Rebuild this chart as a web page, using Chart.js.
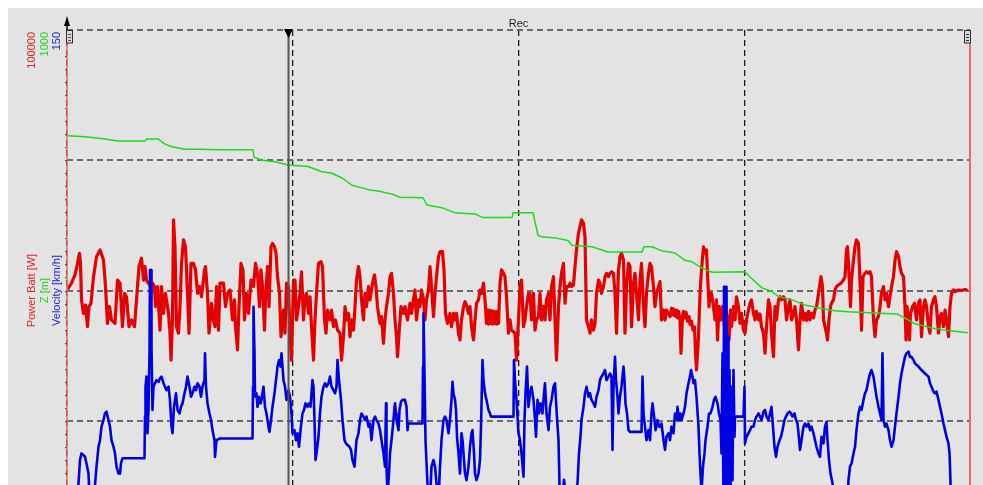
<!DOCTYPE html>
<html>
<head>
<meta charset="utf-8">
<script src="https://cdn.jsdelivr.net/npm/chart.js@4"></script>
<style>
  html, body { margin: 0; padding: 0; background: #ffffff; overflow: hidden; }
  #wrap { position: absolute; left: 0; top: 0; width: 983px; height: 560px; }
</style>
</head>
<body>
<div id="wrap"><canvas id="rec" width="983" height="560"></canvas></div>
<script>
// Recording time base [s]
const timeRange = [0, 1806];
const cursorTime = 443;
const recordTitle = 'Rec';
const axisTitles = ['Power Batt [W]', 'Z [m]', 'Velocity [km/h]'];
const axisColors = ['#e32020', '#1fd01f', '#2020e0'];

// Battery power [W]
const powerTime = [1,9,16,21,25,27,29,33,37,41,44,48,53,59,66,73,77,81,85,89,96,101,106,111,115,119,124,129,135,139,144,149,153,156,159,163,167,171,175,177,181,186,189,193,197,203,206,208,211,213,216,219,223,226,229,233,237,241,244,248,253,257,261,265,269,275,277,281,284,289,293,296,299,303,306,313,
  317,321,326,331,335,337,341,344,348,352,355,359,363,368,373,377,381,385,388,391,395,397,401,404,408,411,415,418,421,425,428,433,436,439,443,446,449,453,456,459,463,466,469,473,476,479,483,486,489,493,496,499,503,508,511,515,518,521,526,529,533,537,541,546,549,553,556,559,563,566,569,573,576,579,583,586,589,593,596,599,603,606,
  611,615,618,621,626,629,633,636,639,643,646,649,653,656,659,661,665,668,673,676,681,686,689,693,696,699,703,706,709,713,716,719,723,726,729,733,736,739,743,746,751,754,757,761,766,769,773,776,779,783,786,789,793,796,799,803,806,809,813,816,819,823,826,829,833,836,839,841,843,845,847,849,851,853,855,857,859,861,863,866,869,873,876,879,883,886,889,896,899,903,906,
  909,913,916,919,923,926,929,933,936,939,943,946,949,953,956,959,963,966,969,973,976,979,983,986,989,993,996,999,1003,1006,1009,1013,1016,1019,1023,1026,1029,1033,1036,1039,1043,1046,1049,1053,1056,1059,1063,1066,1069,1073,1076,1079,1083,1086,1089,1093,1096,1099,1103,1106,1109,1113,1116,1119,1123,1126,1129,1133,1136,1139,1143,1146,1149,1153,1156,1159,1163,1166,1169,1173,1176,1179,1183,1186,1189,1193,1196,1199,1206,
  1209,1211,1213,1216,1219,1221,1223,1226,1228,1231,1233,1235,1238,1241,1244,1246,1249,1252,1255,1257,1259,1263,1266,1269,1273,1276,1279,1281,1284,1286,1289,1293,1296,1299,1301,1304,1308,1311,1315,1318,1321,1324,1327,1329,1333,1336,1339,1343,1346,1349,1353,1356,1359,1363,1366,1369,1373,1376,1379,1383,1386,1389,1393,1396,1399,1403,1406,1409,1413,1416,1419,1423,1426,1429,1433,1436,1439,1443,1446,1449,1453,1456,1459,1463,1466,1469,1473,1476,1479,1483,1486,1489,1493,1496,1499,1503,1506,
  1508,1511,1513,1516,1519,1521,1524,1527,1529,1533,1536,1539,1543,1548,1553,1556,1559,1561,1564,1567,1569,1573,1576,1579,1583,1585,1587,1589,1592,1596,1599,1603,1606,1609,1613,1616,1619,1623,1626,1629,1633,1636,1639,1643,1646,1649,1653,1656,1659,1663,1666,1669,1673,1676,1678,1680,1683,1685,1687,1691,1695,1699,1703,1706,1709,1713,1716,1719,1723,1726,1729,1733,1736,1739,1743,1746,1749,1753,1756,1759,1763,1766,1769,1773,1776,1783,1789,1796,1801];
const powerW = [400,2800,6000,10400,14300,10400,-3600,-8800,-5600,-13900,-6200,-4900,5300,13000,15600,11700,1500,-12600,-6200,-11300,-12600,4000,2800,-13900,-1100,-2400,-13900,-11300,-13900,-3600,9200,12400,4000,9200,4000,2800,1500,2800,1500,-6200,1500,-15200,1500,-8800,-1100,-8800,-16400,-26700,-11300,27100,16800,-13900,-16400,-6200,10400,19400,16800,-1100,-16400,10400,10400,7900,-1100,1500,-2400,7900,9200,-1100,-16400,-4900,-11300,-13900,1500,-15200,2800,2800,
  -6200,-1100,200,-11300,-3600,-13900,-22800,-6200,10400,7900,-11300,-1100,-8800,4000,1500,10400,6600,-6200,7900,1500,-15200,-2400,9200,-6200,16800,18100,16800,14300,5300,-1100,-17700,-7500,-16400,2800,1500,-17700,-26700,4000,4000,-11300,-6200,-1100,7200,-11300,-2400,-1100,-8800,-2400,-13900,-26700,-11300,-1100,10400,11100,9200,-11300,-16400,-7500,-11300,-7500,-13900,-11300,-15200,-16400,-26700,-17700,-6200,-11300,-8800,-17700,-11300,-15200,-6200,4000,9200,5300,-3600,-11300,-1100,-6200,1500,-3600,
  2800,6000,1500,-6200,-12600,-10000,-20300,-11300,-6200,-1100,5300,6600,-1100,-11300,-17700,-25400,-13900,-6200,-8800,-6200,-11300,-4900,-8800,-3600,200,-11300,-3600,-6200,200,-3600,-11300,-3600,200,9200,1500,-10000,-1100,5300,13000,14900,14900,7900,-8800,-12600,-8800,-13900,-8800,-11300,-8800,-16400,-19000,-11300,-6200,-4300,-5600,-8800,-6200,-13900,-19000,-11300,-4900,-3600,200,-1100,2800,-3600,-12600,-7500,-12900,-7500,-12600,-7800,-12900,-8000,-12600,-8200,-12900,-8000,-12600,2800,7900,6600,5300,-2400,-16400,-11300,-15200,-16400,-26700,-11300,1500,
  4000,-13900,-11300,-6200,-1100,-1100,-11300,-1100,-15200,-11300,-10000,-1100,-11300,-6200,-11300,-3600,-1100,-11300,1500,5300,-11300,-26700,-6200,1500,6600,10400,-4900,1500,1500,2800,1500,2100,9200,15600,22000,24500,27100,25800,20700,-11300,-13900,-16400,-11300,-15200,-12600,-1100,4000,2800,-1100,1500,5300,6600,5300,6600,7200,6600,-1100,-16400,7900,13000,14300,11700,-16400,1500,10400,9200,-13900,2800,6600,-1100,-11300,4000,10400,-6200,-13900,-1100,6600,10400,9200,1500,-6200,-1100,1500,3400,-11300,-7500,-11300,-7500,-10000,
  -6800,-9400,-7000,-9800,-7500,-10500,-8000,-11300,-24100,-10000,-8000,-10500,-8400,-11800,-10000,-13000,-11800,-15200,-14000,-24100,-30500,-17700,-1100,7900,16800,14300,15600,6600,-6200,-1100,-1100,-6200,-11300,-3600,-19000,-6200,-11300,-6200,-13900,-7500,-11300,-19000,-7500,-13900,-6200,-11300,-2400,-6200,-12600,-8800,-15200,-16400,-11300,-7500,-4900,-3600,-8800,-11300,-8000,-11300,-9000,-13900,-16400,-24100,-13900,-3600,-6200,-16400,-25400,-6200,-11300,-3600,-2400,-3600,-2400,-3600,-11300,-6200,-3600,-11300,-8800,-6200,-11300,-22800,-11300,-4900,-11300,-8800,-11500,-8000,-11300,-8800,-10500,-7500,-6200,-1100,2800,
  5300,1500,-11300,-13900,-16400,-19000,-11300,-6200,-4900,-3600,200,1500,2100,2800,4000,5300,15600,16800,6600,-6200,4000,11700,16800,19400,18100,7900,-1100,-15200,5300,6600,7200,6600,7200,5300,-11300,-17700,-11300,-10000,-6200,-1100,1500,-3600,-1100,-6200,-2400,1500,5300,11700,14900,13000,9200,6600,5300,-6200,-19000,-6200,-11300,-19000,-8800,-6200,-4900,-11300,-4900,-3600,-17700,-6200,-3600,-6200,-13900,-16400,-6200,-3600,-2400,-6200,-16400,-10000,-8800,-13900,-7500,-11300,-17700,-6200,-1100,200,-400,200,0,400,0];

// Altitude Z [m]
const heightTime = [2,36,76,102,156,160,182,196,210,236,262,306,372,374,390,416,442,482,510,530,550,570,590,606,622,650,666,712,720,750,776,816,832,890,892,906,932,942,950,976,1002,1010,1050,1082,1150,1154,1170,1190,1206,1216,1236,1250,1270,1290,1356,1366,1390,1410,1422,1450,1476,1506,1536,1562,1660,1676,1696,1730,1762,1802];
const heightM = [797,795,791,787,787,791,791,781,776,771,771,770,770,756,750,747,741,738,728,725,716,702,697,693,691,685,679,678,664,659,649,647,640,640,649,649,649,606,603,601,596,587,584,574,574,584,584,576,574,572,558,555,543,535,536,526,505,498,489,482,472,466,461,459,455,447,436,428,423,419];

// Vehicle speed [km/h]
const speedTime = [0,18,23,26,29,33,36,39,43,44,48,52,56,59,63,66,69,73,76,79,83,86,89,93,96,99,103,106,108,111,155,156,157,159,161,163,165,166,168,169,171,173,176,179,183,186,189,193,196,199,203,206,209,211,214,218,221,225,228,231,235,238,241,245,248,251,255,258,261,265,268,271,275,276,278,281,285,288,291,295,296,299,306,
  371,372,373,375,376,379,381,384,387,389,393,396,399,403,405,408,411,415,418,421,424,427,429,433,436,439,443,446,449,451,455,458,461,464,467,471,474,477,481,484,487,491,493,495,497,499,503,506,509,513,516,519,523,526,529,533,536,539,541,544,548,551,555,558,561,565,568,571,575,577,579,583,586,589,593,596,599,603,606,
  609,613,616,619,623,626,629,633,636,638,639,641,644,646,649,653,655,656,658,659,663,665,668,671,676,679,681,683,711,712,713,715,717,720,723,726,729,733,736,739,743,746,749,753,756,759,763,766,769,771,773,776,778,780,783,786,789,791,794,796,799,803,806,809,811,814,816,819,823,826,828,831,833,836,839,843,846,848,893,894,896,899,903,906,
  909,913,915,917,920,923,926,929,933,936,938,941,944,947,951,954,956,959,963,966,969,973,976,979,983,985,990,994,998,1010,1021,1024,1027,1029,1033,1036,1039,1043,1046,1049,1053,1056,1059,1063,1066,1069,1073,1076,1079,1083,1086,1089,1091,1093,1096,1098,1101,1103,1106,1109,1113,1115,1117,1120,1123,1126,1149,1151,1153,1156,1159,1163,1166,1169,1171,1175,1177,1181,1184,1187,1189,1193,1196,1199,1203,1206,
  1209,1213,1216,1219,1221,1224,1227,1229,1233,1236,1239,1243,1246,1248,1251,1253,1256,1259,1263,1265,1267,1269,1272,1275,1277,1281,1284,1287,1291,1294,1297,1301,1304,1307,1309,1311,1313,1314,1315,1317,1318,1319,1321,1322,1323,1325,1327,1329,1331,1333,1335,1336,1353,1355,1356,1359,1363,1366,1369,1373,1376,1379,1383,1386,1389,1393,1396,1399,1403,1406,1409,1411,1415,1418,1421,1425,1428,1431,1435,1438,1441,1445,1448,1451,1455,1458,1461,1463,1466,1469,1473,1476,1479,1483,1486,1489,1493,1496,1499,1503,1506,
  1509,1513,1516,1519,1521,1524,1527,1531,1540,1552,1560,1563,1566,1569,1573,1576,1579,1583,1586,1589,1593,1596,1599,1603,1606,1609,1613,1616,1619,1623,1626,1629,1631,1633,1636,1639,1643,1646,1649,1653,1656,1659,1663,1666,1669,1673,1676,1679,1683,1686,1689,1693,1696,1703,1709,1716,1723,1726,1729,1733,1736,1739,1743,1746,1749,1753,1756,1759,1763,1765,1766,1768,1775,1780];
const speedKmh = [6,8,19.5,26.2,28.1,27.6,27.1,25.2,22.3,19,12,10,19,24.3,30,31.9,35.8,37.7,39.6,40.1,37.7,35.8,31.9,30,28.1,24.3,22.3,22.3,25.2,26.7,26.7,38.7,47.3,50.2,33.9,40.6,56.9,80.9,80.9,58.8,40.6,47.3,48.3,49.2,48.7,49.7,50.2,48.3,47.3,46.3,47.3,43.5,35.8,33.9,41.5,45.4,40.6,39.6,41.5,42.5,45.4,47.3,50.2,47.3,44.4,45.4,47.3,46.3,48.3,47.3,44.4,47.3,49.2,56.9,47.3,42.5,39.6,37.7,34.8,31.9,27.1,31.9,32.4,
  32.4,47.3,70.3,56.9,44.4,45.4,41.5,44.4,42.5,43.5,47.3,41.5,39.6,35.8,34.3,37.7,41.5,45.4,49.2,53.1,55,53.1,56.9,49.2,47.3,43.5,46.3,44.4,39.6,33.9,34.8,31.9,33.9,30,34.8,39.6,40.6,42.5,41.5,42.5,41.5,49.2,47.3,37.7,26.2,28.1,32.9,39.6,44.4,47.3,48.3,47.3,48.3,50.2,47.3,46.3,45.4,47.3,55,49.2,43.5,37.7,31.9,31,30.5,30,29.1,26.2,24.3,28.1,31.9,33.9,37.7,39.6,38.7,37.7,38.7,35.8,36.7,
  31.9,37.7,38.7,37.7,36.7,34.8,31.9,28.1,24.3,42.5,24.3,16,22.3,28.1,31.9,37.7,41.5,42.5,39.6,37.7,34.8,40.6,43,43.5,43.5,41.5,34.8,36.7,36.7,53.1,68.4,51.1,31.9,22.3,14,15,24.3,26.2,24.3,19.5,15,24.3,31.9,37.7,38.7,37.7,33.9,37.7,43.5,48.7,45.4,43.5,40.6,32.9,28.1,22.3,33.9,31.9,26.2,22.3,20.4,24.3,30,33.9,34.8,28.1,22.3,20.4,22.3,26.2,35.8,55,49.2,45.4,43.5,40.6,39.6,38.7,38.7,55,49.2,43.5,33.9,31.9,
  28.1,21.4,37.7,45.4,53.1,41.5,45.4,47.3,43.5,37.7,32.9,43.5,39.6,42.5,39.6,45.4,48.3,39.6,34.8,41.5,43.5,47.3,48.3,40.6,31.9,19,15,20.5,16,13,19.5,28.1,32.9,37.7,41.5,45.4,47.3,44.4,45.4,43.5,42.5,41.5,44.4,46.3,49.2,50.2,51.1,52.1,49.2,50.2,51.1,50.2,29.1,47.3,55.9,49.2,44.4,39.6,44.4,47.3,53.1,49.2,42.5,39.6,34.8,34.3,34.3,50.2,39.6,35.8,31.9,34.8,31.9,39.6,42.5,37.7,34.8,37.7,35.8,35.8,36.7,31.9,29.1,32.9,33.9,31.9,
  35.8,33.9,39.6,37.7,41.5,37.7,39.6,37.7,39.6,41.5,45.4,48.3,50.2,52.1,50.2,48.3,49.2,44.4,35.8,28.1,22.3,17,24.3,28.1,31.9,35.8,39.6,39.6,41.5,43.5,44.4,42.5,39.6,37.7,28.1,56.9,12,76.1,10,61.7,12,76.1,14,61.7,15,52.1,17,47.3,20.4,52.1,32.9,38.7,38.7,47.3,31,32.9,33.9,34.8,35.8,35.8,37.7,38.7,39.6,38.7,37.7,40.1,40.6,38.7,37.7,39.6,41.5,37.7,30,27.1,30,31.9,32.9,34.8,37.7,38.7,39.6,40.1,39.6,38.7,39.6,37.7,36.7,33.9,29.1,31.9,35.8,36.7,35.8,36.7,34.8,35.8,33.9,31.9,30,28.1,27.1,
  32.9,31,35.8,37.2,31.9,26.2,22.3,19.5,10,8,12,20.4,24.3,25.2,28.1,30,34.8,39.6,41.5,40.6,43.5,45.4,46.3,49.2,51.1,52.1,50.2,47.3,44.4,41.5,39.6,37.7,56.9,37.7,35.8,36.7,34.8,31.9,30,31.9,35.8,39.6,44.4,48.3,51.1,54,55.9,56.9,57.4,55.9,55.9,55,54,53.1,52.1,51.1,50.2,48.3,47.3,45.9,45.4,45.9,43.5,41.5,39.6,36.7,34.8,32.9,31,28.1,24.3,15,5,2];

const toPoints = (xs, ys) => xs.map((x, i) => ({ x, y: ys[i] }));
const FONT = '11px "Liberation Sans", Arial, sans-serif';

// Panel background, axes, cursor and labels of the recorder view
const recorderFrame = {
  id: 'recorderFrame',
  beforeDraw(chart) {
    const ctx = chart.ctx;
    ctx.save();
    ctx.fillStyle = '#e3e3e3';
    ctx.fillRect(8, 8, chart.width - 8, chart.height - 8);
    ctx.restore();
  },
  afterDraw(chart) {
    const ctx = chart.ctx;
    const { left, right, top, bottom } = chart.chartArea;
    const xs = chart.scales.x, ps = chart.scales.power;
    ctx.save();

    // y axis lines
    ctx.strokeStyle = '#e76b6b';
    ctx.lineWidth = 1.5;
    ctx.beginPath(); ctx.moveTo(left, top + 13); ctx.lineTo(left, bottom); ctx.stroke();
    ctx.lineWidth = 2;
    ctx.beginPath(); ctx.moveTo(right, top + 13); ctx.lineTo(right, bottom); ctx.stroke();

    // minor ticks on the left axis
    ctx.fillStyle = '#4a4a4a';
    for (let v = ps.min; v <= ps.max; v += (ps.max - ps.min) / 40) {
      const y = Math.round(ps.getPixelForValue(v));
      if (y > top + 14) ctx.fillRect(left - 2, y, 1.5, 1.2);
    }

    // cursor
    const cx = xs.getPixelForValue(cursorTime);
    ctx.strokeStyle = '#555555';
    ctx.lineWidth = 2;
    ctx.beginPath(); ctx.moveTo(cx, top); ctx.lineTo(cx, bottom); ctx.stroke();
    ctx.fillStyle = '#000000';
    ctx.beginPath(); ctx.moveTo(cx - 4.5, top - 1); ctx.lineTo(cx + 4.5, top - 1); ctx.lineTo(cx, top + 8); ctx.closePath(); ctx.fill();

    // up arrow on the value axis
    ctx.strokeStyle = '#000000';
    ctx.lineWidth = 1.5;
    ctx.beginPath(); ctx.moveTo(left, top - 6); ctx.lineTo(left, top); ctx.stroke();
    ctx.beginPath(); ctx.moveTo(left, top - 14); ctx.lineTo(left - 3, top - 4); ctx.lineTo(left + 3, top - 4); ctx.closePath(); ctx.fill();

    // scroll handles
    const handle = (x, inner) => {
      ctx.fillStyle = '#d8d8d8';
      ctx.fillRect(x, top, 6, 13);
      ctx.strokeStyle = '#2e2e2e';
      ctx.lineWidth = 1;
      ctx.strokeRect(x + 0.5, top + 0.5, 6, 12.5);
      ctx.strokeStyle = inner;
      for (const dy of [4, 7, 10]) {
        ctx.beginPath(); ctx.moveTo(x + 2, top + dy + 0.5); ctx.lineTo(x + 5, top + dy + 0.5); ctx.stroke();
      }
    };
    handle(left - 1, '#555555');
    handle(right - 6, '#1d2a6a');

    // record title
    ctx.font = FONT;
    ctx.fillStyle = '#1e1e1e';
    ctx.textAlign = 'center';
    ctx.textBaseline = 'alphabetic';
    ctx.fillText(recordTitle, xs.getPixelForValue((xs.min + xs.max) / 2), top - 3);

    // rotated axis labels
    const scaleIds = ['power', 'height', 'speed'];
    const columns = [32, 44.5, 57];
    const midY = (top + bottom) / 2;
    scaleIds.forEach((id, i) => {
      ctx.fillStyle = axisColors[i];
      ctx.save();
      ctx.translate(columns[i], top + 2);
      ctx.rotate(-Math.PI / 2);
      ctx.textAlign = 'right';
      ctx.textBaseline = 'middle';
      ctx.fillText(String(chart.scales[id].max), 0, 0);
      ctx.restore();
      ctx.save();
      ctx.translate(columns[i], midY);
      ctx.rotate(-Math.PI / 2);
      ctx.textAlign = 'center';
      ctx.textBaseline = 'middle';
      ctx.fillText(axisTitles[i], 0, 0);
      ctx.restore();
    });
    ctx.restore();
  }
};

new Chart(document.getElementById('rec'), {
  type: 'line',
  data: {
    datasets: [
      { label: axisTitles[2], data: toPoints(speedTime, speedKmh), yAxisID: 'speed', borderColor: '#0000e6', borderWidth: 2.6 },
      { label: axisTitles[1], data: toPoints(heightTime, heightM), yAxisID: 'height', borderColor: '#19dc19', borderWidth: 1.5 },
      { label: axisTitles[0], data: toPoints(powerTime, powerW), yAxisID: 'power', borderColor: '#e80000', borderWidth: 3.2 }
    ]
  },
  options: {
    responsive: false,
    animation: false,
    devicePixelRatio: 1,
    layout: { padding: { left: 67, top: 30, right: 13, bottom: 9 } },
    plugins: { legend: { display: false }, tooltip: { enabled: false } },
    elements: { point: { radius: 0 }, line: { tension: 0, borderJoinStyle: 'round' } },
    scales: {
      x: {
        type: 'linear', min: timeRange[0], max: timeRange[1], z: 1,
        afterBuildTicks: s => { s.ticks = [0, 1, 2, 3, 4].map(i => ({ value: s.min + i * (s.max - s.min) / 4 })); },
        ticks: { display: false },
        grid: { color: '#1a1a1a', lineWidth: 1.3, drawTicks: false },
        border: { display: false, dash: [6, 4] },
        afterFit: s => { s.height = 0; }
      },
      power: {
        position: 'left', min: -100000, max: 100000, z: 1,
        ticks: { display: false, stepSize: 50000 },
        grid: { color: '#6b6b6b', lineWidth: 2, drawTicks: false },
        border: { display: false, dash: [6, 4] },
        afterFit: s => { s.width = 0; }
      },
      height: { display: false, min: 0, max: 1000 },
      speed: { display: false, min: 0, max: 150 }
    }
  },
  plugins: [recorderFrame]
});
</script>
</body>
</html>
